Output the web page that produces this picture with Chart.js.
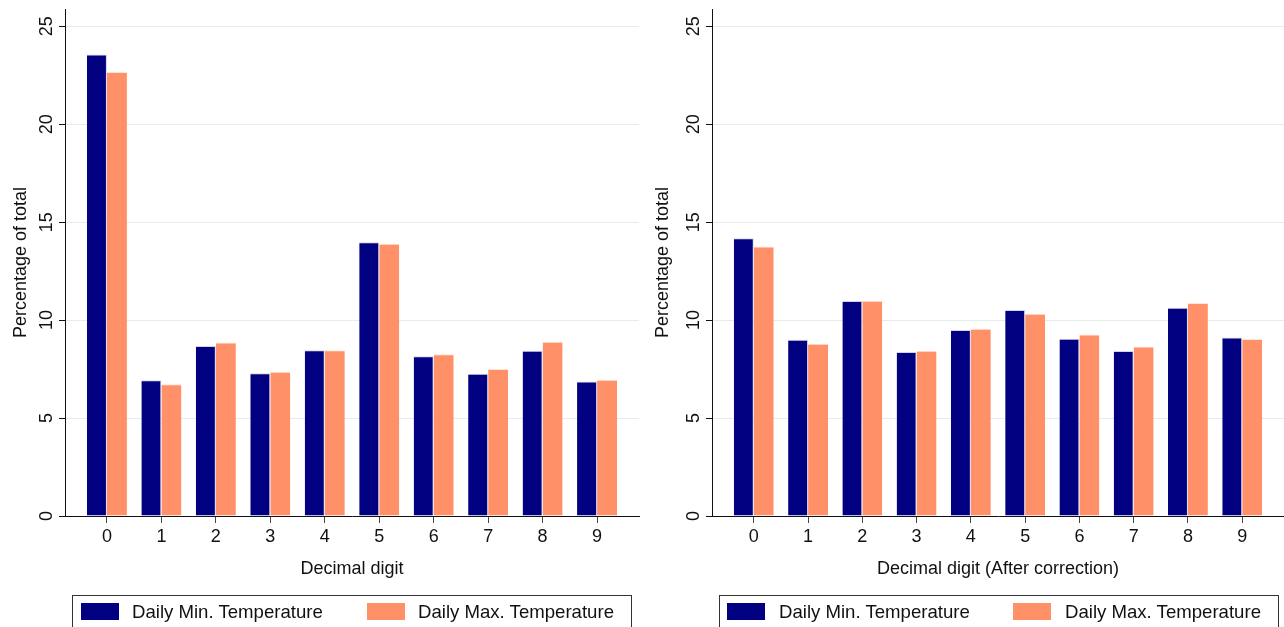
<!DOCTYPE html>
<html>
<head>
<meta charset="utf-8">
<script src="https://cdn.jsdelivr.net/npm/chart.js@4.4.1/dist/chart.umd.min.js"></script>
<style>
  html, body { margin:0; padding:0; background:#fff; }
  body { width:1284px; height:627px; position:relative; overflow:hidden;
         font-family:"Liberation Sans", Arial, sans-serif; color:#111; }
  .panel { position:absolute; top:0; width:642px; height:627px; }
  .legend { position:absolute; top:595px; width:560px; height:40px; border:1px solid #333; box-sizing:border-box; }
  .sw { position:absolute; top:7px; width:38px; height:17px; }
  .lt { position:absolute; top:5px; font-size:18.6px; line-height:21px; white-space:nowrap; }
</style>
</head>
<body>
<div class="panel" style="left:0"><canvas id="cRaw"></canvas></div>
<div class="panel" style="left:642px"><canvas id="cFix"></canvas></div>

<div class="legend" style="left:72px">
  <div class="sw" style="left:8px;background:#000080"></div><div class="lt" style="left:59px">Daily Min. Temperature</div>
  <div class="sw" style="left:294px;background:#ff9068"></div><div class="lt" style="left:345px">Daily Max. Temperature</div>
</div>
<div class="legend" style="left:719px">
  <div class="sw" style="left:7px;background:#000080"></div><div class="lt" style="left:59px">Daily Min. Temperature</div>
  <div class="sw" style="left:293px;background:#ff9068"></div><div class="lt" style="left:345px">Daily Max. Temperature</div>
</div>

<script>
const DIGITS = ["0","1","2","3","4","5","6","7","8","9"];
const MIN_RAW = [23.56, 6.93, 8.68, 7.29, 8.46, 13.97, 8.16, 7.26, 8.44, 6.86];
const MAX_RAW = [22.67, 6.73, 8.85, 7.36, 8.46, 13.90, 8.26, 7.50, 8.90, 6.95];
const MIN_FIX = [14.18, 9.00, 10.97, 8.37, 9.50, 10.51, 9.05, 8.42, 10.63, 9.11];
const MAX_FIX = [13.76, 8.79, 10.99, 8.43, 9.56, 10.32, 9.27, 8.65, 10.87, 9.03];
const Y_TICKS = [0, 5, 10, 15, 20, 25];

const NAVY = "#000080", SALMON = "#ff9068", GRID = "#e3ecef";
const FONT = {family:"'Liberation Sans', Arial, sans-serif", size:18};

Chart.defaults.color = "#111";
Chart.defaults.font.family = FONT.family;
Chart.defaults.font.size = 18;

function mkPanel(id, mins, maxs, xTitle, yWidth, padRight){
  const ctx = document.getElementById(id);
  return new Chart(ctx, {
    type:"bar",
    data:{
      labels: DIGITS,
      datasets:[
        {label:"Daily Min. Temperature", data:mins, backgroundColor:NAVY, borderColor:"rgba(200,200,235,0.8)", borderWidth:{top:1,left:0,right:1,bottom:0}},
        {label:"Daily Max. Temperature", data:maxs, backgroundColor:SALMON, borderColor:"rgba(255,225,210,0.9)", borderWidth:{top:1,left:0,right:0,bottom:0}},
      ]
    },
    options:{
      responsive:true, maintainAspectRatio:false, animation:false,
      layout:{padding:{top:9, right:padRight, bottom:0, left:0}},
      plugins:{legend:{display:false}, tooltip:{enabled:false}},
      datasets:{bar:{categoryPercentage:0.735, barPercentage:1.0}},
      scales:{
        x:{
          type:"linear", min:-0.77, max:9.77, offset:false,
          afterBuildTicks:s=>{ s.ticks = DIGITS.map((d,i)=>({value:i})); },
          afterFit:s=>{ s.height = 111; s.paddingLeft = 0; s.paddingRight = 0; },
          ticks:{autoSkip:false, padding:3, color:"#111", font:FONT, callback:v=>DIGITS[v]},
          grid:{offset:false, drawOnChartArea:false, tickLength:7, tickColor:"#444"},
          border:{color:"#111", width:1, z:1},
          title:{display:true, text:xTitle, color:"#111", font:FONT, padding:{top:0,bottom:47}},
        },
        y:{
          min:0, max:25.88,
          afterBuildTicks:s=>{ s.ticks = Y_TICKS.map(v=>({value:v})); },
          afterFit:s=>{ s.width = yWidth; s.paddingTop = 0; s.paddingBottom = 0; },
          ticks:{minRotation:90, maxRotation:90, crossAlign:"center", padding:2, color:"#111", font:FONT},
          grid:{color:c=>c.tick && c.tick.value===0 ? "rgba(0,0,0,0)" : GRID, tickLength:6, tickColor:"#111"},
          border:{color:"#111", width:1},
          title:{display:true, text:"Percentage of total", color:"#111", font:FONT, padding:{top:10,bottom:0}},
        }
      }
    }
  });
}

mkPanel("cRaw", MIN_RAW, MAX_RAW, "Decimal digit", 65, 3);
mkPanel("cFix", MIN_FIX, MAX_FIX, "Decimal digit (After correction)", 70, 0);
</script>
</body>
</html>
